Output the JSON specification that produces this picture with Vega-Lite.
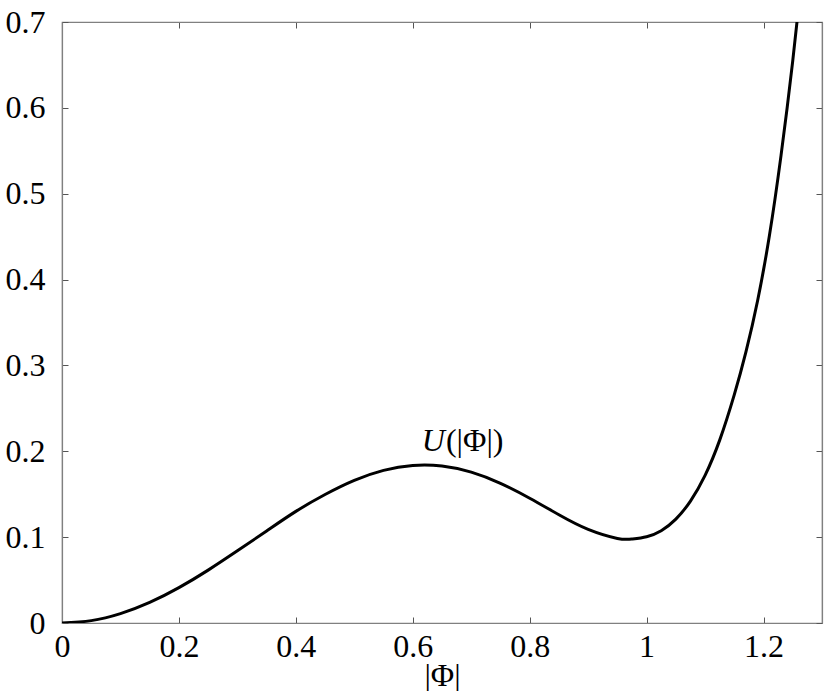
{
  "$schema": "https://vega.github.io/schema/vega-lite/v6.json",
  "width": 760,
  "height": 601,
  "autosize": {"type": "none"},
  "padding": {"left": 62, "top": 22, "right": 8, "bottom": 68},
  "background": "white",
  "config": {
    "view": {"stroke": "#808080", "strokeWidth": 1.2},
    "font": "Liberation Serif",
    "axis": {
      "grid": false,
      "domainColor": "#808080",
      "domainWidth": 1.2,
      "tickColor": "#555555",
      "tickSize": -6,
      "tickWidth": 1,
      "format": "~g",
      "labelFont": "Liberation Serif",
      "labelFontSize": 32,
      "labelColor": "black",
      "titleFont": "Liberation Serif",
      "titleFontSize": 32,
      "titleFontWeight": "normal",
      "titleColor": "black"
    }
  },
  "datasets": {
    "curve": [
      {"x": 0, "y": 0},
      {"x": 0.05, "y": 0.00276},
      {"x": 0.1, "y": 0.01088},
      {"x": 0.15, "y": 0.02392},
      {"x": 0.2, "y": 0.04115},
      {"x": 0.25, "y": 0.06159},
      {"x": 0.3, "y": 0.08405},
      {"x": 0.35, "y": 0.10718},
      {"x": 0.4, "y": 0.1300},
      {"x": 0.45, "y": 0.14965},
      {"x": 0.5, "y": 0.16613},
      {"x": 0.55, "y": 0.17773},
      {"x": 0.6, "y": 0.18349},
      {"x": 0.65, "y": 0.18283},
      {"x": 0.7, "y": 0.17571},
      {"x": 0.75, "y": 0.16274},
      {"x": 0.8, "y": 0.14537},
      {"x": 0.85, "y": 0.12603},
      {"x": 0.9, "y": 0.10900},
      {"x": 0.95, "y": 0.09850},
      {"x": 0.975, "y": 0.09780},
      {"x": 1.0, "y": 0.10050},
      {"x": 1.025, "y": 0.1075},
      {"x": 1.05, "y": 0.1210},
      {"x": 1.075, "y": 0.1420},
      {"x": 1.1, "y": 0.1720},
      {"x": 1.125, "y": 0.2130},
      {"x": 1.15, "y": 0.2660},
      {"x": 1.17, "y": 0.3160},
      {"x": 1.19, "y": 0.3760},
      {"x": 1.21, "y": 0.4510},
      {"x": 1.23, "y": 0.5450},
      {"x": 1.25, "y": 0.6550},
      {"x": 1.27, "y": 0.7800}
    ],
    "labelU": [
      {"x": 0.655, "y": 0.2, "t": "U"}
    ],
    "labelArg": [
      {"x": 0.655, "y": 0.2, "t": "(|Φ|)"}
    ]
  },
  "layer": [
    {
      "data": {"name": "curve"},
      "mark": {"type": "line", "color": "black", "strokeWidth": 3, "interpolate": "natural", "clip": true},
      "encoding": {
        "x": {
          "field": "x", "type": "quantitative",
          "scale": {"domain": [0, 1.3], "nice": false, "zero": false},
          "axis": {"orient": "bottom", "values": [0, 0.2, 0.4, 0.6, 0.8, 1, 1.2], "labelPadding": 14, "title": "|Φ|", "titlePadding": -2, "labelFlush": false}
        },
        "y": {
          "field": "y", "type": "quantitative",
          "scale": {"domain": [0, 0.7], "nice": false},
          "axis": {"orient": "left", "values": [0, 0.1, 0.2, 0.3, 0.4, 0.5, 0.6, 0.7], "labelPadding": 23, "title": null, "labelFlush": false}
        }
      }
    },
    {
      "data": {"name": "labelU"},
      "mark": {"type": "text", "fontSize": 32, "font": "Liberation Serif", "fontStyle": "italic", "baseline": "alphabetic", "align": "right", "color": "black"},
      "encoding": {
        "x": {"field": "x", "type": "quantitative", "scale": {"domain": [0, 1.3], "nice": false, "zero": false}, "axis": null},
        "y": {"field": "y", "type": "quantitative", "scale": {"domain": [0, 0.7], "nice": false}, "axis": null},
        "text": {"field": "t"}
      }
    },
    {
      "data": {"name": "labelArg"},
      "mark": {"type": "text", "fontSize": 32, "font": "Liberation Serif", "baseline": "alphabetic", "align": "left", "dx": 1, "color": "black"},
      "encoding": {
        "x": {
          "field": "x", "type": "quantitative",
          "scale": {"domain": [0, 1.3], "nice": false, "zero": false},
          "axis": {"orient": "top", "values": [0, 0.2, 0.4, 0.6, 0.8, 1, 1.2], "labels": false, "title": null}
        },
        "y": {
          "field": "y", "type": "quantitative",
          "scale": {"domain": [0, 0.7], "nice": false},
          "axis": {"orient": "right", "values": [0, 0.1, 0.2, 0.3, 0.4, 0.5, 0.6, 0.7], "labels": false, "title": null}
        },
        "text": {"field": "t"}
      }
    }
  ],
  "resolve": {"axis": {"x": "independent", "y": "independent"}}
}
